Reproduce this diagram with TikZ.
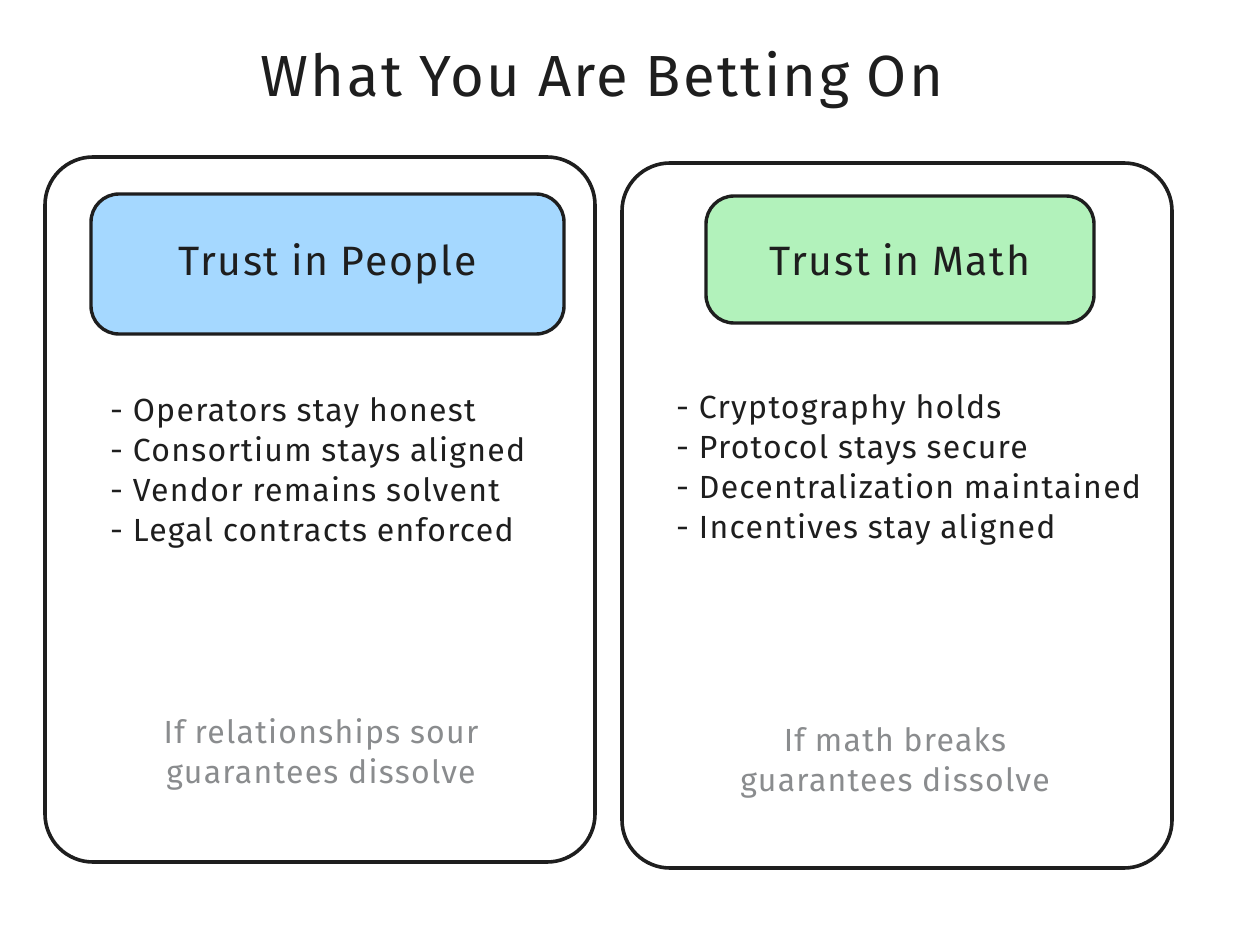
\documentclass[tikz,border=0pt]{standalone}
\usepackage{fontspec}
\setmainfont{Fira Sans}[LetterSpace=4]
\definecolor{ink}{HTML}{1E1E1E}
\definecolor{bluefill}{HTML}{A5D8FF}
\definecolor{greenfill}{HTML}{B2F2BB}
\definecolor{graytext}{HTML}{8A8C8E}
\begin{document}
\begin{tikzpicture}[x=1pt,y=-1pt,
  outerbox/.style={draw=ink, line width=3.6pt, rounded corners=48pt, fill=white},
  headerbox/.style={draw=ink, line width=3.4pt, rounded corners=28pt},
  titletext/.style={text=ink, font=\fontsize{58}{66}\selectfont},
  headtext/.style={text=ink, font=\fontsize{41}{48}\selectfont},
  itemtext/.style={text=ink, font=\fontsize{32}{40}\selectfont, align=left, inner sep=0pt},
  foottext/.style={text=graytext, font=\fontsize{32}{40}\selectfont, align=center, inner sep=0pt}
]
\useasboundingbox (0,0) rectangle (1242,952);
\fill[white] (0,0) rectangle (1242,952);

\node[titletext] (title) at (602,80) {What You Are Betting On};

\node[outerbox, minimum width=550pt, minimum height=705pt] (L) at (320,509.5) {};
\node[outerbox, minimum width=550pt, minimum height=705pt] (R) at (897,515.5) {};

\node[headerbox, fill=bluefill, minimum width=473pt, minimum height=140pt] (LH) at (327.5,264) {};
\node[headtext] (LHt) at (LH.center) {Trust in People};
\node[headerbox, fill=greenfill, minimum width=388pt, minimum height=127pt] (RH) at (900,259.5) {};
\node[headtext] (RHt) at (RH.center) {Trust in Math};

\node[itemtext, anchor=west] (Li) at (110,473) {- Operators stay honest\\- Consortium stays aligned\\- Vendor remains solvent\\- Legal contracts enforced};
\node[itemtext, anchor=west] (Ri) at (676,470) {- Cryptography holds\\- Protocol stays secure\\- Decentralization maintained\\- Incentives stay aligned};

\node[foottext] (Lf) at (321,754) {If relationships sour\\guarantees dissolve};
\node[foottext] (Rf) at (895,763) {If math breaks\\guarantees dissolve};
\end{tikzpicture}
\end{document}
